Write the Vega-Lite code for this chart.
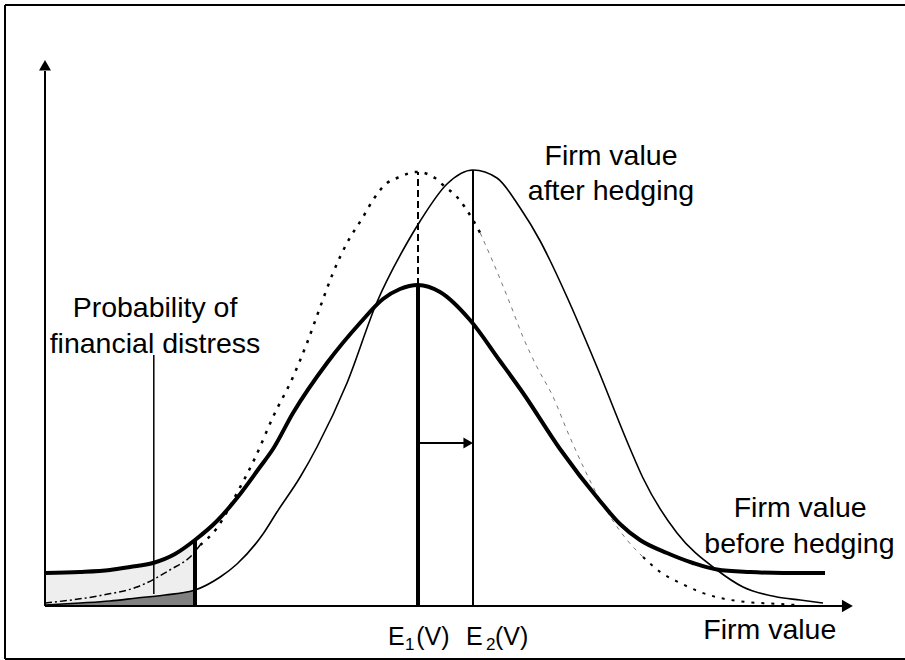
{
  "$schema": "https://vega.github.io/schema/vega-lite/v6.json",
  "width": 905,
  "height": 660,
  "autosize": "none",
  "padding": 0,
  "background": "white",
  "config": {"view": {"stroke": null}, "text": {"font": "Liberation Sans", "color": "black"}},
  "datasets": {
    "curves": [
      {"series": "before", "x": 0, "y": 6.6},
      {"series": "before", "x": 4.375, "y": 6.8},
      {"series": "before", "x": 8.125, "y": 7.2},
      {"series": "before", "x": 10.625, "y": 7.8},
      {"series": "before", "x": 13.5, "y": 8.6},
      {"series": "before", "x": 16.25, "y": 10.4},
      {"series": "before", "x": 18.75, "y": 13.2},
      {"series": "before", "x": 21.5, "y": 17.0},
      {"series": "before", "x": 24, "y": 21.6},
      {"series": "before", "x": 26.875, "y": 27.8},
      {"series": "before", "x": 28.5, "y": 31.4},
      {"series": "before", "x": 31, "y": 38.6},
      {"series": "before", "x": 35.25, "y": 48.6},
      {"series": "before", "x": 39.375, "y": 56.6},
      {"series": "before", "x": 42.25, "y": 61.4},
      {"series": "before", "x": 44.375, "y": 63.4},
      {"series": "before", "x": 46.625, "y": 64.2},
      {"series": "before", "x": 49.375, "y": 62.8},
      {"series": "before", "x": 53.125, "y": 57.2},
      {"series": "before", "x": 56.875, "y": 49.0},
      {"series": "before", "x": 59.75, "y": 42.6},
      {"series": "before", "x": 64.375, "y": 31.4},
      {"series": "before", "x": 69.375, "y": 21.0},
      {"series": "before", "x": 71.875, "y": 16.4},
      {"series": "before", "x": 74.375, "y": 13.2},
      {"series": "before", "x": 77.75, "y": 10.6},
      {"series": "before", "x": 81, "y": 8.6},
      {"series": "before", "x": 84, "y": 7.3},
      {"series": "before", "x": 88.125, "y": 6.8},
      {"series": "before", "x": 92.25, "y": 6.6},
      {"series": "before", "x": 97.5, "y": 6.6},
      {"series": "after", "x": 0, "y": 0.2},
      {"series": "after", "x": 4.4, "y": 0.6},
      {"series": "after", "x": 8.1, "y": 1.0},
      {"series": "after", "x": 11.5, "y": 1.6},
      {"series": "after", "x": 15, "y": 2.2},
      {"series": "after", "x": 18.75, "y": 3.2},
      {"series": "after", "x": 21.9, "y": 5.8},
      {"series": "after", "x": 24, "y": 8.4},
      {"series": "after", "x": 27.25, "y": 14.4},
      {"series": "after", "x": 29, "y": 18.8},
      {"series": "after", "x": 31.9, "y": 25.8},
      {"series": "after", "x": 34, "y": 31.8},
      {"series": "after", "x": 37.75, "y": 44.6},
      {"series": "after", "x": 41.5, "y": 60.8},
      {"series": "after", "x": 45.25, "y": 72.6},
      {"series": "after", "x": 46.9, "y": 77.0},
      {"series": "after", "x": 50.25, "y": 84.4},
      {"series": "after", "x": 53.5, "y": 87.2},
      {"series": "after", "x": 56.5, "y": 85.6},
      {"series": "after", "x": 59.4, "y": 79.6},
      {"series": "after", "x": 61.9, "y": 73.0},
      {"series": "after", "x": 63.1, "y": 69.2},
      {"series": "after", "x": 65.25, "y": 61.8},
      {"series": "after", "x": 69, "y": 47.8},
      {"series": "after", "x": 73.1, "y": 31.6},
      {"series": "after", "x": 74.75, "y": 25.6},
      {"series": "after", "x": 79, "y": 14.6},
      {"series": "after", "x": 84, "y": 7.2},
      {"series": "after", "x": 87.25, "y": 3.8},
      {"series": "after", "x": 91.5, "y": 1.8},
      {"series": "after", "x": 94.4, "y": 1.2},
      {"series": "after", "x": 97.25, "y": 0.6},
      {"series": "dotA", "x": 0, "y": 0.6},
      {"series": "dotA", "x": 7.25, "y": 2.2},
      {"series": "dotA", "x": 11.5, "y": 3.8},
      {"series": "dotA", "x": 15.6, "y": 7.2},
      {"series": "dotA", "x": 18.5, "y": 10.4},
      {"series": "dotA", "x": 19.4, "y": 12.2},
      {"series": "dotB", "x": 19.4, "y": 12.2},
      {"series": "dotB", "x": 21.5, "y": 15.6},
      {"series": "dotB", "x": 24, "y": 22.6},
      {"series": "dotB", "x": 26.25, "y": 29.6},
      {"series": "dotB", "x": 28.5, "y": 37.8},
      {"series": "dotB", "x": 31, "y": 45.8},
      {"series": "dotB", "x": 32.75, "y": 52.6},
      {"series": "dotB", "x": 34.4, "y": 59.8},
      {"series": "dotB", "x": 36, "y": 66.6},
      {"series": "dotB", "x": 37.75, "y": 72.6},
      {"series": "dotB", "x": 39.75, "y": 77.8},
      {"series": "dotB", "x": 41, "y": 81.2},
      {"series": "dotB", "x": 42.75, "y": 84.6},
      {"series": "dotB", "x": 44, "y": 85.6},
      {"series": "dotB", "x": 46.5, "y": 86.8},
      {"series": "dotB", "x": 48.75, "y": 85.6},
      {"series": "dotB", "x": 49.75, "y": 84.2},
      {"series": "dotB", "x": 51.5, "y": 81.8},
      {"series": "dotB", "x": 53.5, "y": 77.2},
      {"series": "dotB", "x": 54.4, "y": 74.6},
      {"series": "dotC", "x": 54.4, "y": 74.6},
      {"series": "dotC", "x": 56, "y": 68.8},
      {"series": "dotC", "x": 58.1, "y": 60.6},
      {"series": "dotC", "x": 59.75, "y": 53.8},
      {"series": "dotC", "x": 61.5, "y": 47.8},
      {"series": "dotC", "x": 63.4, "y": 42.2},
      {"series": "dotC", "x": 65.6, "y": 33.8},
      {"series": "dotC", "x": 69.4, "y": 21.2},
      {"series": "dotC", "x": 72.75, "y": 13.2},
      {"series": "dotC", "x": 74.75, "y": 9.8},
      {"series": "dotD", "x": 74.75, "y": 9.8},
      {"series": "dotD", "x": 76.9, "y": 6.8},
      {"series": "dotD", "x": 79.4, "y": 4.6},
      {"series": "dotD", "x": 81.9, "y": 2.8},
      {"series": "dotD", "x": 84.4, "y": 1.6},
      {"series": "dotD", "x": 87.75, "y": 0.8},
      {"series": "dotD", "x": 91.9, "y": 0.4},
      {"series": "dotD", "x": 94, "y": 0.2}
    ],
    "vrules": [
      {"name": "frameL", "x": -5, "y": -10.6, "y2": 120.2},
      {"name": "axisY", "x": 0, "y": 0, "y2": 107},
      {"name": "E1", "x": 46.625, "y": 0, "y2": 64.2},
      {"name": "E1d", "x": 46.625, "y": 64.2, "y2": 86.8},
      {"name": "E2", "x": 53.5, "y": 0, "y2": 87.2},
      {"name": "cut", "x": 18.75, "y": 0, "y2": 13.2},
      {"name": "ptr", "x": 13.6, "y": 2.4, "y2": 50.2}
    ],
    "hrules": [
      {"name": "frameT", "y": 120.2, "x": -5, "x2": 107.5},
      {"name": "frameB", "y": -10.6, "x": -5, "x2": 107.5},
      {"name": "axisX", "y": 0, "x": 0, "x2": 100},
      {"name": "shift", "y": 32.6, "x": 46.625, "x2": 52.5}
    ],
    "heads": [
      {"name": "up", "x": 0, "y": 108.16},
      {"name": "right", "x": 100.3, "y": 0},
      {"name": "shift", "x": 52.9, "y": 32.6}
    ],
    "labels": [
      {"grp": "main", "text": "Firm value", "x": 70.75, "y": 88.2},
      {"grp": "main", "text": "after hedging", "x": 70.75, "y": 81.2},
      {"grp": "main", "text": "Probability of", "x": 13.75, "y": 57.8},
      {"grp": "main", "text": "financial distress", "x": 13.75, "y": 50.6},
      {"grp": "main", "text": "Firm value", "x": 94.4, "y": 17.8},
      {"grp": "main", "text": "before hedging", "x": 94.3, "y": 10.6},
      {"grp": "main", "text": "Firm value", "x": 90.6, "y": -6.6},
      {"grp": "E", "text": "E", "x": 42.875, "y": -7.8},
      {"grp": "E", "text": "(V)", "x": 46.4, "y": -7.8},
      {"grp": "E", "text": "E", "x": 52.625, "y": -7.8},
      {"grp": "E", "text": "(V)", "x": 56.25, "y": -7.8},
      {"grp": "sub", "text": "1", "x": 45, "y": -8.8},
      {"grp": "sub", "text": "2", "x": 55.125, "y": -8.8}
    ]
  },
  "encoding": {
    "x": {"field": "x", "type": "quantitative", "scale": {"domain": [-5.625, 107.5], "nice": false, "zero": false}, "axis": null},
    "y": {"field": "y", "type": "quantitative", "scale": {"domain": [-10.8, 121.2], "nice": false, "zero": false}, "axis": null}
  },
  "layer": [
    {"data": {"name": "curves"}, "transform": [{"filter": "datum.series == 'before' && datum.x <= 18.75"}],
     "mark": {"type": "area", "color": "#eeeeee", "interpolate": "monotone"},
     "encoding": {"y2": {"datum": 0}}},
    {"data": {"name": "curves"}, "transform": [{"filter": "datum.series == 'after' && datum.x <= 18.75"}],
     "mark": {"type": "area", "color": "#808080", "interpolate": "monotone"},
     "encoding": {"y2": {"datum": 0}}},
    {"data": {"name": "curves"}, "transform": [{"filter": "datum.series == 'dotA'"}],
     "mark": {"type": "line", "color": "black", "strokeWidth": 1.5, "strokeDash": [7, 3, 2, 3], "interpolate": "monotone"}, "encoding": {}},
    {"data": {"name": "curves"}, "transform": [{"filter": "datum.series == 'dotB'"}],
     "mark": {"type": "line", "color": "black", "strokeWidth": 2.5, "strokeDash": [3, 7], "interpolate": "monotone"}, "encoding": {}},
    {"data": {"name": "curves"}, "transform": [{"filter": "datum.series == 'dotC'"}],
     "mark": {"type": "line", "color": "#777777", "strokeWidth": 1, "strokeDash": [4, 5], "interpolate": "monotone"}, "encoding": {}},
    {"data": {"name": "curves"}, "transform": [{"filter": "datum.series == 'dotD'"}],
     "mark": {"type": "line", "color": "black", "strokeWidth": 2, "strokeDash": [3, 7], "interpolate": "monotone"}, "encoding": {}},
    {"data": {"name": "curves"}, "transform": [{"filter": "datum.series == 'after'"}],
     "mark": {"type": "line", "color": "black", "strokeWidth": 1.6, "interpolate": "monotone"}, "encoding": {}},
    {"data": {"name": "curves"}, "transform": [{"filter": "datum.series == 'before'"}],
     "mark": {"type": "line", "color": "black", "strokeWidth": 4, "interpolate": "monotone"}, "encoding": {}},
    {"data": {"name": "vrules"}, "transform": [{"filter": "datum.name == 'frameL' || datum.name == 'axisY' || datum.name == 'E2'"}],
     "mark": {"type": "rule", "color": "black", "strokeWidth": 2},
     "encoding": {"y2": {"field": "y2"}}},
    {"data": {"name": "vrules"}, "transform": [{"filter": "datum.name == 'E1' || datum.name == 'cut'"}],
     "mark": {"type": "rule", "color": "black", "strokeWidth": 4},
     "encoding": {"y2": {"field": "y2"}}},
    {"data": {"name": "vrules"}, "transform": [{"filter": "datum.name == 'E1d'"}],
     "mark": {"type": "rule", "color": "black", "strokeWidth": 2, "strokeDash": [7, 4]},
     "encoding": {"y2": {"field": "y2"}}},
    {"data": {"name": "vrules"}, "transform": [{"filter": "datum.name == 'ptr'"}],
     "mark": {"type": "rule", "color": "black", "strokeWidth": 1.5},
     "encoding": {"y2": {"field": "y2"}}},
    {"data": {"name": "hrules"},
     "mark": {"type": "rule", "color": "black", "strokeWidth": 2},
     "encoding": {"x2": {"field": "x2"}}},
    {"data": {"name": "heads"}, "transform": [{"filter": "datum.name == 'up'"}],
     "mark": {"type": "point", "shape": "triangle-up", "filled": true, "color": "black", "size": 144, "opacity": 1}},
    {"data": {"name": "heads"}, "transform": [{"filter": "datum.name == 'right'"}],
     "mark": {"type": "point", "shape": "triangle-right", "filled": true, "color": "black", "size": 159, "opacity": 1}},
    {"data": {"name": "heads"}, "transform": [{"filter": "datum.name == 'shift'"}],
     "mark": {"type": "point", "shape": "triangle-right", "filled": true, "color": "black", "size": 121, "opacity": 1}},
    {"data": {"name": "labels"}, "transform": [{"filter": "datum.grp == 'main'"}],
     "mark": {"type": "text", "fontSize": 28.5, "align": "center", "baseline": "alphabetic"},
     "encoding": {"text": {"field": "text"}}},
    {"data": {"name": "labels"}, "transform": [{"filter": "datum.grp == 'E'"}],
     "mark": {"type": "text", "fontSize": 25, "align": "left", "baseline": "alphabetic"},
     "encoding": {"text": {"field": "text"}}},
    {"data": {"name": "labels"}, "transform": [{"filter": "datum.grp == 'sub'"}],
     "mark": {"type": "text", "fontSize": 17, "align": "left", "baseline": "alphabetic"},
     "encoding": {"text": {"field": "text"}}}
  ]
}
